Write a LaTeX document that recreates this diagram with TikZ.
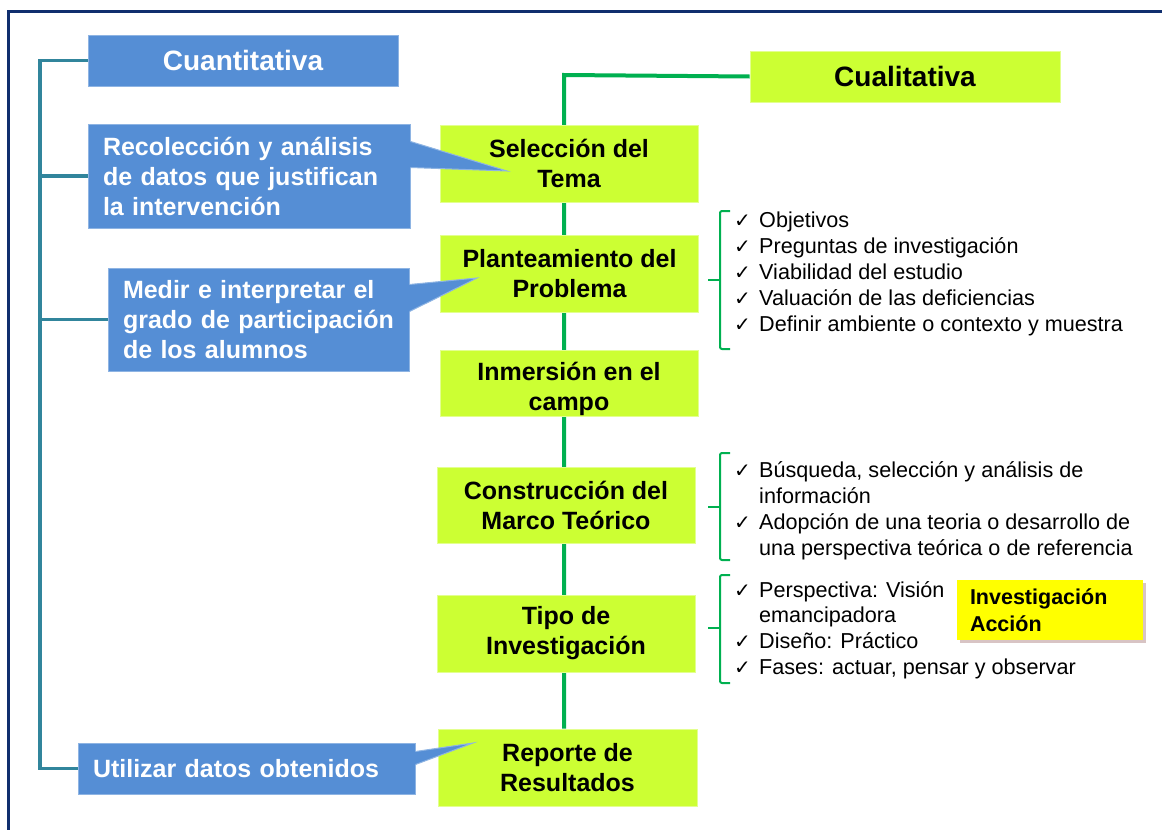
\documentclass[tikz,border=0pt]{standalone}
\usepackage{fontspec}
\setmainfont{Liberation Sans}
\newfontfamily\dejavu{DejaVu Sans}
\usetikzlibrary{calc}
\definecolor{bfill}{HTML}{558ED5}
\definecolor{bline}{HTML}{8EB4E3}
\definecolor{gfill}{HTML}{CCFF33}
\definecolor{gline}{HTML}{00B050}
\definecolor{tealln}{HTML}{31859C}
\definecolor{navyfr}{HTML}{102F6E}
\definecolor{yfill}{HTML}{FFFF00}
\definecolor{yshadow}{HTML}{D8C4C4}
\pgfdeclarelayer{bg}
\pgfsetlayers{bg,main}
\tikzset{
  gbox/.style={fill=gfill, draw=gfill!55!white, line width=0.8pt, minimum width=258pt, minimum height=77pt, inner sep=0pt, align=center, font=\fontsize{25}{30}\selectfont\bfseries},
  gtxt/.style={inner sep=0pt, align=center, font=\fontsize{25}{30}\selectfont\bfseries},
  bbox/.style={fill=bfill, draw=bline, line width=1pt, text=white, font=\fontsize{25}{30}\selectfont\bfseries},
  ltxt/.style={anchor=base west, inner sep=0pt, font=\fontsize{21.6}{26}\selectfont},
  cktxt/.style={anchor=base west, inner sep=0pt, font=\dejavu\fontsize{20}{26}\selectfont},
  tealconn/.style={draw=tealln, line width=3.2pt},
  greenconn/.style={draw=gline, line width=4pt},
  bracestyle/.style={draw=gline, line width=2pt},
  ptr/.style={fill=bfill},
  ptredge/.style={draw=bline, line width=1pt}
}
\begin{document}
\begin{tikzpicture}[x=1pt,y=-1pt]
\useasboundingbox (0,0) rectangle (1162,830);

% ---------- green (qualitative) column ----------
\node[gbox, minimum width=310pt, minimum height=51pt, font=\fontsize{28}{32}\selectfont\bfseries] (cual) at (905,76.5) {Cualitativa};
\node[gbox] (sel) at (569,163.5) {Selección del\\Tema};
\node[gbox] (plan) at (569.5,274) {Planteamiento del\\Problema};
\node[gbox, minimum height=66pt] (inm) at (569,383) {};
\node[gtxt] (inmt) at (569,389) {Inmersión en el\\campo};
\node[gbox, minimum height=76pt] (cons) at (566,505) {Construcción del\\Marco Teórico};
\node[gbox] (tipo) at (566,633.5) {Tipo de\\Investigación};
\node[gbox, minimum width=259pt] (rep) at (567.5,767.5) {Reporte de\\Resultados};

\coordinate (gc) at (564,75);
\begin{pgfonlayer}{bg}
  \draw[navyfr, line width=3pt] (8,845) -- (8,11) -- (1175,11);
  \draw[greenconn] (cual.west) -- (gc) -- (gc |- rep.north);
\end{pgfonlayer}

% ---------- blue (quantitative) column ----------
\node[bbox, minimum width=310pt, minimum height=51pt, inner sep=0pt, font=\fontsize{28}{32}\selectfont\bfseries] (cuant) at (243,60.5) {Cuantitativa};
\node[bbox, text width=292pt, inner xsep=15pt, inner ysep=0pt, minimum height=104pt, align=left] (recol) at (249,176) {Recolección y análisis\\de datos que justifican\\la intervención};
\node[bbox, text width=271pt, inner xsep=15pt, inner ysep=0pt, minimum height=103pt, align=left] (medir) at (258.5,319.5) {Medir e interpretar el\\grado de participación\\de los alumnos};
\node[bbox, text width=307pt, inner xsep=15pt, inner ysep=0pt, minimum height=51pt, align=left] (util) at (246.5,768.5) {Utilizar datos obtenidos};

% callout pointers
\coordinate (rtip) at (507,171);
\coordinate (mtip) at (477,278);
\coordinate (utip) at (473,743);
\path[ptr] ($(recol.north east)+(-1.5,18)$) -- ($(recol.north east)+(0,18)$) -- (rtip) -- ($(recol.north east)+(0,44)$) -- ($(recol.north east)+(-1.5,44)$) -- cycle;
\draw[ptredge] ($(recol.north east)+(0,18)$) -- (rtip) -- ($(recol.north east)+(0,44)$);
\path[ptr] ($(medir.north east)+(-1.5,17)$) -- ($(medir.north east)+(0,17)$) -- (mtip) -- ($(medir.north east)+(0,44)$) -- ($(medir.north east)+(-1.5,44)$) -- cycle;
\draw[ptredge] ($(medir.north east)+(0,17)$) -- (mtip) -- ($(medir.north east)+(0,44)$);
\path[ptr] ($(util.north east)+(-1.5,9)$) -- ($(util.north east)+(0,9)$) -- (utip) -- ($(util.north east)+(0,22)$) -- ($(util.north east)+(-1.5,22)$) -- cycle;
\draw[ptredge] ($(util.north east)+(0,9)$) -- (utip) -- ($(util.north east)+(0,22)$);

\coordinate (tv) at (40,0);
\begin{pgfonlayer}{bg}
  \draw[tealconn] (cuant.west) -- (cuant.west -| tv) -- (util.west -| tv) -- (util.west);
  \draw[tealconn] (recol.west) -- (recol.west -| tv);
  \draw[tealconn] (medir.west) -- (medir.west -| tv);
\end{pgfonlayer}

% ---------- braces ----------
\draw[bracestyle, rounded corners=2pt] (730,211) -- (720,211) -- (720,349) -- (730,349);
\draw[bracestyle] (720,280) -- (708,280);
\draw[bracestyle, rounded corners=2pt] (730,453) -- (720,453) -- (720,560) -- (730,560);
\draw[bracestyle] (720,507) -- (708,507);
\draw[bracestyle, rounded corners=2pt] (730,575) -- (720,575) -- (720,683) -- (730,683);
\draw[bracestyle] (720,628) -- (708,628);

% ---------- lists ----------
\node[cktxt] (c11) at (734,227) {✓};
\node[ltxt] (t11) at (759,227) {Objetivos};
\node[cktxt] (c12) at (734,253) {✓};
\node[ltxt] (t12) at (759,253) {Preguntas de investigación};
\node[cktxt] (c13) at (734,279) {✓};
\node[ltxt] (t13) at (759,279) {Viabilidad del estudio};
\node[cktxt] (c14) at (734,305) {✓};
\node[ltxt] (t14) at (759,305) {Valuación de las deficiencias};
\node[cktxt] (c15) at (734,331) {✓};
\node[ltxt] (t15) at (759,331) {Definir ambiente o contexto y muestra};

\node[cktxt] (c21) at (734,477) {✓};
\node[ltxt] (t21) at (759,477) {Búsqueda, selección y análisis de};
\node[ltxt] (t22) at (759,503) {información};
\node[cktxt] (c23) at (734,529) {✓};
\node[ltxt] (t23) at (759,529) {Adopción de una teoria o desarrollo de};
\node[ltxt] (t24) at (759,555) {una perspectiva teórica o de referencia};

\node[cktxt] (c31) at (734,597) {✓};
\node[ltxt] (t31) at (759,597) {Perspectiva: Visión};
\node[ltxt] (t32) at (759,622) {emancipadora};
\node[cktxt] (c33) at (734,648) {✓};
\node[ltxt] (t33) at (759,648) {Diseño: Práctico};
\node[cktxt] (c34) at (734,674) {✓};
\node[ltxt] (t34) at (759,674) {Fases: actuar, pensar y observar};

% ---------- yellow box ----------
\fill[yshadow] (960,583) rectangle (1146,643);
\node[fill=yfill, minimum width=186pt, minimum height=60pt, text width=160pt, inner xsep=13pt, inner ysep=0pt, align=left, font=\fontsize{21.5}{27}\selectfont\bfseries] (inv) at (1050,610) {Investigación\\Acción};
\end{tikzpicture}
\end{document}
